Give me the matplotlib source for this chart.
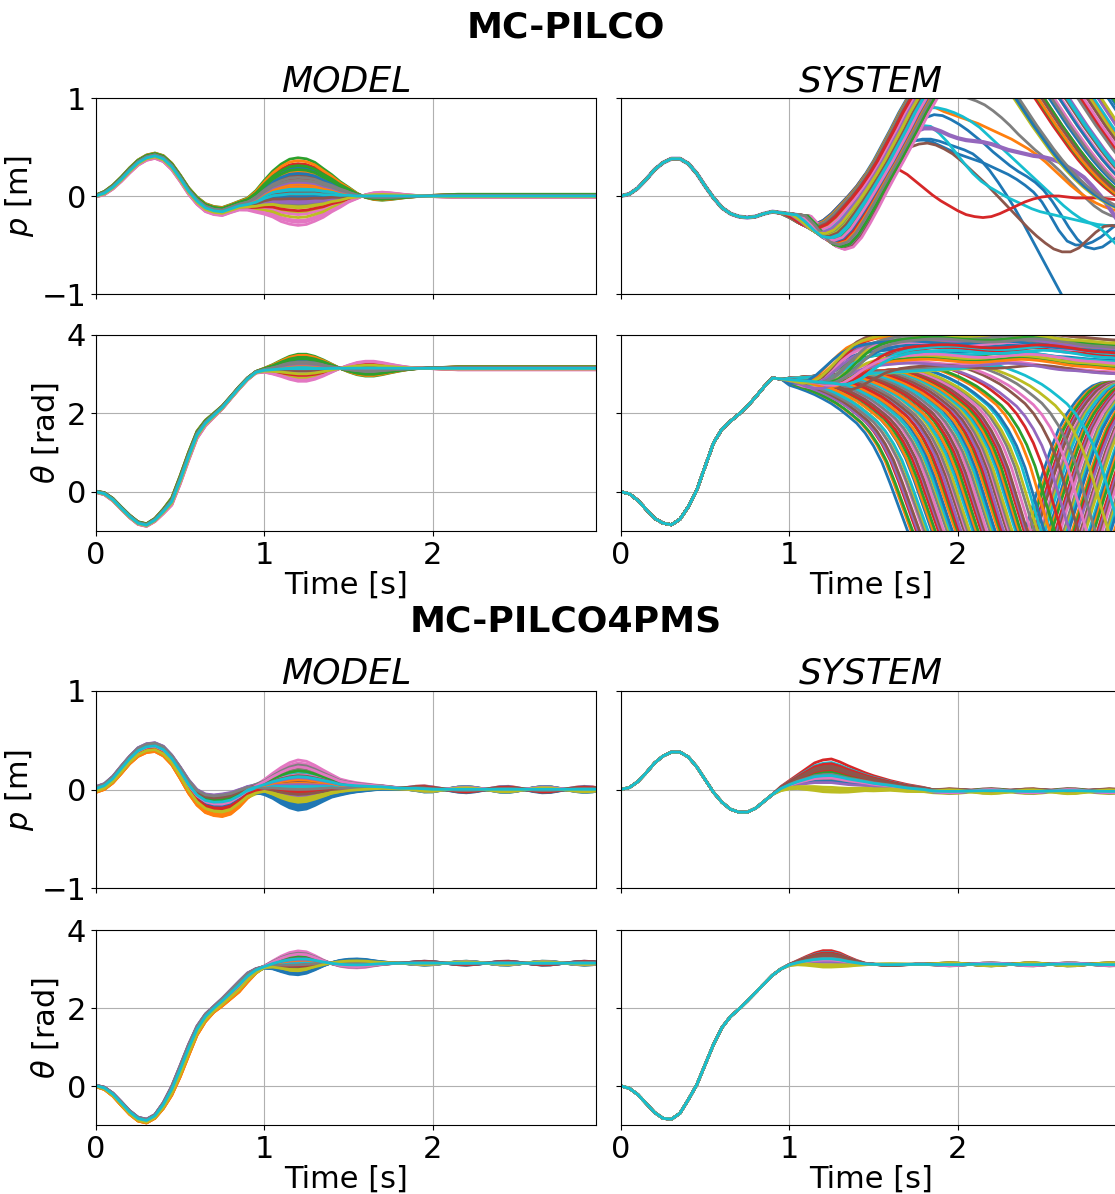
import numpy as np
import matplotlib
matplotlib.use('Agg')
import matplotlib.pyplot as plt

# time grid of the rollouts [s]
t = np.round(np.arange(61) * 0.05, 2)

# ---------------- MC-PILCO, MODEL ----------------
MP_MODEL_P = [0.00, 0.03, 0.09, 0.17, 0.26, 0.34, 0.39, 0.41, 0.38, 0.30,
              0.18, 0.05, -0.05, -0.12, -0.15, -0.16, -0.13, -0.10, -0.085, -0.06,
              -0.02, 0.01, 0.02, 0.03, 0.03, 0.03, 0.03, 0.02, 0.02, 0.01,
              0.01, 0.00, 0.00, 0.00, 0.00, 0.00, 0.00, 0.00, 0.00, 0.00] + [0.0] * 21
MP_MODEL_PS = [0.03, 0.05, 0.06, 0.07, 0.08, 0.08, 0.08, 0.08, 0.09, 0.10,
               0.10, 0.10, 0.11, 0.12, 0.12, 0.12, 0.12, 0.13, 0.18, 0.32,
               0.50, 0.68, 0.85, 0.96, 1.00, 0.97, 0.87, 0.72, 0.55, 0.38,
               0.22, 0.08, -0.04, -0.10, -0.12, -0.10, -0.07, -0.04, -0.02, 0.00,
               0.02, 0.03, 0.04] + [0.05] * 18
MP_MODEL_TH = [0.00, -0.05, -0.20, -0.42, -0.63, -0.80, -0.85, -0.72, -0.50, -0.25,
               0.30, 0.90, 1.45, 1.75, 1.95, 2.15, 2.40, 2.65, 2.88, 3.05,
               3.10, 3.12, 3.14] + [3.15] * 38
MP_MODEL_THS = [0.05, 0.08, 0.10, 0.10, 0.10, 0.10, 0.10, 0.12, 0.18, 0.28,
                0.32, 0.32, 0.28, 0.22, 0.16, 0.12, 0.10, 0.10, 0.08, 0.06,
                0.15, 0.35, 0.60, 0.85, 1.00, 1.00, 0.85, 0.60, 0.30, 0.00,
                -0.25, -0.45, -0.55, -0.55, -0.45, -0.32, -0.20, -0.10, -0.03, 0.00,
                0.03, 0.06, 0.09] + [0.12] * 18
C_MODEL = [0.12, 0.22, 0.36, 0.30, -0.08, 0.18, -0.33, 0.05, -0.15, 0.02,
           0.26, 0.33, 0.15, -0.02, 0.08, 0.10, -0.28, -0.12, -0.20, -0.05,
           0.20, 0.06, 0.24, 0.14, -0.10, 0.00, -0.22, 0.16, -0.25, 0.04,
           -0.04, 0.09, 0.28, -0.18, 0.11, -0.06, -0.30, 0.13, -0.14, -0.01]

# ---------------- MC-PILCO, SYSTEM ----------------
MP_SYS_P = [0.00, 0.02, 0.08, 0.17, 0.27, 0.34, 0.38, 0.38, 0.33, 0.23,
            0.10, -0.02, -0.12, -0.18, -0.21, -0.22, -0.21, -0.18, -0.16, -0.18,
            -0.22, -0.27, -0.30, -0.29, -0.25, -0.18, -0.09, 0.00, 0.10, 0.22,
            0.36, 0.52, 0.68, 0.85, 1.00, 1.12, 1.20, 1.26, 1.30, 1.30,
            1.30, 1.30, 1.27, 1.20, 1.10, 0.98, 0.85, 0.72, 0.60, 0.48,
            0.37, 0.27, 0.18, 0.10, 0.03, -0.03, -0.08, -0.12, -0.15, -0.17,
            -0.18]
MP_SYS_PB = [0.0] * 19 + [0.1, 0.3, 0.55, 0.8, 0.95, 1.0, 0.9, 0.7, 0.45, 0.2, 0.05] + [0.0] * 31
D_UP = [0.00, 0.005, 0.01, 0.015, 0.02, 0.025, 0.03, 0.035, 0.04, 0.045,
        0.05, 0.055, 0.06, 0.065, 0.07, 0.075, 0.08, 0.085, 0.09, 0.095,
        0.10, 0.105, 0.11, 0.115, 0.12, 0.125, 0.13, 0.135, 0.14, 0.145,
        0.15, 0.155, 0.16, 0.165, 0.17, 0.175, 0.18, 0.01, 0.03, 0.05,
        0.07, 0.09, 0.11, 0.13, 0.15, 0.02, 0.04, 0.06, 0.08, 0.10,
        0.12, 0.14, 0.16, 0.025, 0.055, 0.085, 0.115, 0.145, 0.065, 0.095]
E_UP = [0.30, 0.55, 0.10, 0.75, 0.40, 0.65, 0.20, 0.85, 0.50, 0.05,
        0.60, 0.35, 0.80, 0.15, 0.70, 0.45, 0.25, 0.78, 0.00, 0.58,
        0.38, 0.68, 0.12, 0.48, 0.83, 0.28, 0.62, 0.18, 0.74, 0.42,
        0.52, 0.08, 0.72, 0.32, 0.88, 0.22, 0.66, 0.46, 0.82, 0.36,
        0.03, 0.27, 0.57, 0.14, 0.44, 0.69, 0.33, 0.06, 0.53, 0.77,
        0.24, 0.64, 0.11, 0.47, 0.71, 0.17, 0.39, 0.60, 0.86, 0.31]
# single rollouts that leave the bundle, from t = 1.5 s
TAIL_RED = [0.25, 0.28, 0.29, 0.27, 0.22, 0.15, 0.08, 0.01, -0.05, -0.10,
            -0.15, -0.19, -0.21, -0.22, -0.21, -0.18, -0.14, -0.10, -0.06, -0.03,
            -0.01, 0.00, 0.00, -0.01, -0.02, -0.02, -0.02, -0.02, -0.03, -0.04, -0.05]
TAIL_BROWN = [0.34, 0.44, 0.50, 0.53, 0.54, 0.52, 0.48, 0.43, 0.36, 0.28,
              0.20, 0.12, 0.03, -0.06, -0.15, -0.24, -0.33, -0.41, -0.48, -0.54,
              -0.57, -0.57, -0.53, -0.45, -0.37, -0.31, -0.30, -0.33, -0.38, -0.42, -0.46]
TAIL_BLUE = [0.36, 0.45, 0.52, 0.56, 0.58, 0.58, 0.56, 0.53, 0.50, 0.47,
             0.43, 0.36, 0.26, 0.14, 0.01, -0.13, -0.28, -0.44, -0.60, -0.76,
             -0.92, -1.08, -1.24, -1.40, -1.55, -1.70, -1.85, -2.00, -2.15, -2.30, -2.45]
TAIL_BLUE2 = [0.36, 0.46, 0.53, 0.57, 0.57, 0.55, 0.51, 0.47, 0.43, 0.40,
              0.37, 0.34, 0.30, 0.26, 0.22, 0.17, 0.11, 0.04, -0.06, -0.20,
              -0.35, -0.46, -0.50, -0.50, -0.47, -0.42, -0.35, -0.28, -0.22, -0.18, -0.15]
TAIL_CYAN = [0.36, 0.50, 0.61, 0.68, 0.72, 0.71, 0.64, 0.55, 0.44, 0.33,
             0.23, 0.15, 0.09, 0.04, -0.01, -0.05, -0.09, -0.13, -0.16, -0.18,
             -0.20, -0.22, -0.24, -0.26, -0.28, -0.32, -0.40, -0.49, -0.58, -0.66, -0.74]
TAIL_PURPLE = [0.36, 0.50, 0.60, 0.66, 0.69, 0.69, 0.66, 0.62, 0.59, 0.57,
               0.56, 0.55, 0.53, 0.50, 0.47, 0.45, 0.43, 0.41, 0.40, 0.38,
               0.35, 0.30, 0.25, 0.19, 0.10, 0.00, -0.12, -0.25, -0.38, -0.52, -0.66]
TAIL_CYAN2 = [0.36, 0.52, 0.66, 0.78, 0.86, 0.90, 0.90, 0.88, 0.85, 0.81,
              0.76, 0.70, 0.62, 0.54, 0.46, 0.38, 0.30, 0.22, 0.14, 0.06,
              -0.02, -0.10, -0.17, -0.23, -0.27, -0.29, -0.30, -0.30, -0.29, -0.28, -0.27]
TAIL_GRAY = [0.36, 0.52, 0.68, 0.85, 1.00, 1.06, 1.08, 1.08, 1.06, 1.03,
             1.00, 0.97, 0.93, 0.87, 0.80, 0.72, 0.63, 0.55, 0.47, 0.40,
             0.33, 0.25, 0.16, 0.07, -0.02, -0.10, -0.16, -0.20, -0.22, -0.23, -0.24]
TAIL_ORANGE = [0.36, 0.52, 0.67, 0.80, 0.90, 0.92, 0.90, 0.86, 0.83, 0.80,
               0.77, 0.74, 0.70, 0.66, 0.62, 0.58, 0.53, 0.48, 0.42, 0.35,
               0.27, 0.19, 0.11, 0.04, -0.02, -0.07, -0.11, -0.14, -0.16, -0.17, -0.18]
TAIL_BLUE3 = [0.36, 0.50, 0.63, 0.73, 0.80, 0.83, 0.82, 0.78, 0.73, 0.67,
              0.60, 0.53, 0.45, 0.38, 0.31, 0.25, 0.20, 0.14, 0.06, -0.05,
              -0.18, -0.32, -0.44, -0.52, -0.54, -0.52, -0.46, -0.40, -0.35, -0.32, -0.30]
TAIL_DELAY = {'red': 0.0, 'gray': 0.06, 'cyan2': 0.08, 'blue2': 0.10, 'blue': 0.09,
              'brown': 0.12, 'cyan': 0.09, 'purple': 0.10, 'orange': 0.07, 'blue3': 0.11}

MP_SYS_TH_PRE = [0.00, -0.05, -0.22, -0.45, -0.68, -0.80, -0.84, -0.70, -0.38, 0.04,
                 0.65, 1.25, 1.60, 1.80, 1.98, 2.18, 2.42, 2.68, 2.90, 2.88]
MP_SYS_TH_FALL = [2.77, 2.70, 2.62, 2.53, 2.42, 2.30, 2.15, 1.98, 1.80, 1.55,
                  1.22, 0.80, 0.25, -0.35, -0.95, -1.50, -1.95, -2.30, -2.55, -2.70,
                  -2.80, -2.85, -2.80, -2.72, -2.60, -2.40, -2.10, -1.65, -1.00, -0.30,
                  0.40, 1.05, 1.60, 2.00, 2.30, 2.55, 2.70, 2.78, 2.80, 2.80, 2.80]
W_FALL = [1.0] * 13 + [0.7, 0.4, 0.1] + [0.0] * 25
MP_SYS_TH_UP = [2.77, 2.74, 2.76, 2.85, 3.00, 3.17, 3.32, 3.43, 3.50, 3.55,
                3.58, 3.60, 3.62, 3.63, 3.63, 3.62, 3.60, 3.58, 3.56, 3.55,
                3.55, 3.56, 3.58, 3.60, 3.62, 3.63, 3.62, 3.60, 3.57, 3.54,
                3.50, 3.47, 3.45, 3.44, 3.42, 3.40, 3.38, 3.37, 3.36, 3.36, 3.36]
W_UP = [0.0, 0.15, 0.35, 0.6, 0.8, 0.92] + [1.0] * 35
D_FALL = [0.00, 0.02, 0.03, 0.05, 0.06, 0.07, 0.09, 0.10, 0.11, 0.12,
          0.14, 0.15, 0.16, 0.18, 0.19, 0.20, 0.21, 0.23, 0.24, 0.25,
          0.26, 0.28, 0.29, 0.30, 0.31, 0.33, 0.34, 0.35, 0.36, 0.38,
          0.39, 0.40, 0.41, 0.43, 0.44, 0.45, 0.46, 0.48, 0.49, 0.50,
          0.51, 0.53, 0.54, 0.55, 0.56, 0.58, 0.59, 0.60, 0.61, 0.63,
          0.64, 0.65, 0.66, 0.68, 0.69, 0.70, 0.72, 0.74, 0.76, 0.78,
          0.80, 0.83, 0.86, 0.90, 0.95, 1.00, 1.05, 1.10, 1.18, 1.25]
O_FALL = [-0.05, -0.02, -0.04, 0.00, -0.03, 0.00, 0.03, -0.02, 0.05, 0.00,
          0.06, 0.02, 0.08, 0.04, 0.10, 0.05, 0.12, 0.07, 0.14, 0.09,
          0.15, 0.10, 0.17, 0.12, 0.18, 0.14, 0.20, 0.15, 0.22, 0.17,
          0.23, 0.18, 0.25, 0.20, 0.26, 0.21, 0.28, 0.22, 0.29, 0.24,
          0.30, 0.25, 0.31, 0.27, 0.32, 0.28, 0.33, 0.30, 0.34, 0.31,
          0.35, 0.32, 0.36, 0.33, 0.37, 0.34, 0.36, 0.38, 0.35, 0.40,
          0.37, 0.42, 0.40, 0.44, 0.38, 0.45, 0.42, 0.46, 0.40, 0.44]
D_UPTH = [0.00, 0.05, 0.02, 0.10, 0.07, 0.15, 0.03, 0.12, 0.20, 0.08,
          0.18, 0.04, 0.14, 0.25, 0.09, 0.22, 0.06, 0.16, 0.11, 0.28,
          0.01, 0.13, 0.19, 0.24, 0.05, 0.10, 0.17, 0.21, 0.08, 0.26]
O_UPTH = [0.00, 0.25, -0.10, 0.40, 0.10, 0.30, -0.30, 0.20, 0.45, -0.05,
          0.15, 0.35, -0.20, 0.05, 0.28, -0.40, 0.18, 0.38, -0.15, 0.08,
          0.22, -0.25, 0.32, 0.12, -0.35, 0.50, -0.12, 0.27, 0.42, -0.02]

# ---------------- MC-PILCO4PMS ----------------
WOBBLE = [0.0] * 36 + [0.0, 0.3, 0.7, 1.0, 0.8, 0.3, -0.3, -0.8, -1.0, -0.7,
                       -0.2, 0.4, 0.9, 1.0, 0.6, 0.0, -0.6, -1.0, -0.9, -0.4,
                       0.2, 0.7, 1.0, 0.8, 0.3]
PMS_MODEL_P = [0.00, 0.03, 0.10, 0.20, 0.30, 0.38, 0.42, 0.43, 0.39, 0.30,
               0.17, 0.03, -0.08, -0.14, -0.16, -0.16, -0.14, -0.09, -0.03, 0.00,
               0.02, 0.03, 0.03, 0.03, 0.03, 0.03, 0.03, 0.03, 0.03, 0.02,
               0.02, 0.02, 0.02, 0.02, 0.02, 0.015, 0.01, 0.01, 0.01, 0.005] + [0.0] * 21
PMS_MODEL_PS1 = [0.03, 0.03, 0.035, 0.04, 0.04, 0.045, 0.045, 0.045, 0.05, 0.05,
                 0.06, 0.07, 0.08, 0.095, 0.105, 0.115, 0.11, 0.09, 0.06, 0.03] + [0.0] * 41
PMS_MODEL_PS2 = [0.0] * 18 + [0.05, 0.15, 0.30, 0.50, 0.72, 0.90, 1.00, 0.95, 0.80, 0.62,
                              0.45, 0.32, 0.24, 0.18, 0.14, 0.10, 0.07, 0.05, 0.03] + [0.02] * 24
PMS_MODEL_TH = [0.00, -0.06, -0.22, -0.45, -0.68, -0.85, -0.90, -0.78, -0.50, -0.12,
                0.38, 0.92, 1.42, 1.75, 1.97, 2.15, 2.35, 2.55, 2.78, 2.95,
                3.05, 3.10, 3.12, 3.13, 3.14] + [3.15] * 36
PMS_MODEL_THS1 = [0.02, 0.03, 0.04, 0.05, 0.05, 0.05, 0.05, 0.05, 0.08, 0.12,
                  0.15, 0.15, 0.12, 0.10, 0.08, 0.10, 0.12, 0.14, 0.12, 0.06] + [0.0] * 41
PMS_MODEL_THS2 = [0.0] * 19 + [0.05, 0.10, 0.40, 0.78, 1.08, 1.20, 1.08, 0.72, 0.30, -0.06,
                               -0.30, -0.42, -0.45, -0.40, -0.26, -0.14, -0.06] + [0.0] * 25
C1_MODEL4 = [0.3, -1.0, 0.5, -0.2, 0.9, 0.7, 0.1, 0.8, -0.5, 0.2,
             -0.3, -0.95, 0.4, 0.0, 1.0, 0.6, -0.1, 0.75, -0.6, 0.35,
             0.15, -0.9, 0.55, -0.4, 0.85, 0.45, 0.05, 0.65, -0.7, 0.25,
             -0.15, -0.85, 0.5, -0.25, 0.95, 0.7, 0.2, 0.9, -0.55, 0.3]
C2_MODEL4 = [-0.24, 0.05, 0.10, 0.12, -0.05, 0.00, 0.27, 0.18, -0.15, 0.08,
             -0.20, -0.02, 0.14, 0.20, -0.10, 0.06, 0.24, 0.10, -0.12, 0.15,
             -0.18, 0.03, 0.20, -0.06, 0.02, -0.08, 0.12, 0.22, -0.16, 0.00,
             -0.22, 0.07, 0.16, -0.04, 0.09, 0.11, 0.20, -0.03, -0.13, 0.10]
C3_MODEL4 = [0.5, -0.8, 0.2, 1.0, -0.3, -1.0, 0.7, 0.1, -0.6, 0.9,
             -0.2, 0.4, -0.9, 0.6, 0.0, -0.5, 0.8, -0.7, 0.3, -0.1,
             1.0, -0.4, 0.6, -0.8, 0.2, 0.9, -0.6, -0.2, 0.5, -1.0,
             0.7, -0.3, 0.1, 0.8, -0.9, 0.4, -0.5, 0.3, -0.7, 0.0]

PMS_SYS_P = [0.00, 0.02, 0.08, 0.17, 0.27, 0.34, 0.38, 0.38, 0.33, 0.23,
             0.10, -0.03, -0.13, -0.20, -0.23, -0.23, -0.19, -0.12, -0.05, 0.00,
             0.03, 0.05, 0.06, 0.07, 0.07, 0.07, 0.06, 0.05, 0.045, 0.04,
             0.03, 0.025, 0.02, 0.01, 0.00, -0.005, -0.01, -0.02, -0.02, -0.02] + [-0.02] * 21
PMS_SYS_PS = [0.0] * 19 + [0.03, 0.06, 0.10, 0.15, 0.20, 0.23, 0.24, 0.22, 0.19, 0.16,
                           0.13, 0.11, 0.09, 0.07, 0.06, 0.05, 0.04, 0.03, 0.02] + [0.015] * 23
PMS_SYS_TH = [0.00, -0.06, -0.22, -0.45, -0.68, -0.83, -0.85, -0.70, -0.35, 0.03,
              0.55, 1.07, 1.50, 1.78, 1.97, 2.18, 2.40, 2.62, 2.84, 3.00,
              3.10, 3.14, 3.16, 3.17, 3.17, 3.17, 3.16, 3.14, 3.13] + [3.12] * 32
PMS_SYS_THS = [0.0] * 20 + [0.02, 0.08, 0.16, 0.24, 0.30, 0.30, 0.25, 0.17, 0.09, 0.03,
                            0.00, -0.02, -0.03, -0.02, -0.01] + [0.0] * 26
C_SYS4 = [0.20, 0.45, 0.30, 1.00, 0.55, 0.65, 0.50, 0.75, -0.40, 0.85,
          0.10, 0.35, 0.60, 0.80, 0.25, 0.70, 0.40, 0.15, -0.30, 0.50,
          0.05, 0.30, 0.45, 0.55, 0.00, 0.60, 0.20, 0.35, -0.20, 0.30]
C3_SYS4 = [-0.6, 0.4, 0.9, -0.2, 0.7, -1.0, 0.1, 0.5, -0.8, 0.3,
           1.0, -0.4, -0.7, 0.6, 0.0, 0.8, -0.3, -0.9, 0.2, 0.5,
           -0.5, 0.9, 0.3, -0.1, -0.6, 0.7, -0.8, 0.4, 1.0, -0.2]

LW = 2
FS = 22
W, H = 1115, 1194


def bundle(ax, base, shapes, coefs):
    base = np.array(base)
    for i in range(len(coefs[0])):
        y = base.copy()
        for s, c in zip(shapes, coefs):
            y = y + c[i] * np.array(s)
        ax.plot(t, y, lw=LW)


def sys_p(ax):
    base = np.array(MP_SYS_P)
    bump = np.array(MP_SYS_PB)
    tails = [('gray', TAIL_GRAY, 'C7'), ('orange', TAIL_ORANGE, 'C1'),
             ('cyan2', TAIL_CYAN2, 'C9'), ('blue3', TAIL_BLUE3, 'C0'),
             ('blue2', TAIL_BLUE2, 'C0'), ('blue', TAIL_BLUE, 'C0'),
             ('brown', TAIL_BROWN, 'C5'), ('cyan', TAIL_CYAN, 'C9'),
             ('purple', TAIL_PURPLE, 'C4'), ('red', TAIL_RED, 'C3')]
    for key, tail, col in tails:
        d = TAIL_DELAY[key]
        x = t.copy()
        x[19:] += d
        y = np.concatenate([base[:30], tail]) - 1.5 * d * bump
        ax.plot(x, y, lw=LW + (1 if key == 'purple' else 0), color=col)
    for d, e in zip(D_UP, E_UP):
        x = t.copy()
        x[19:] += d
        x[41:] += e
        ax.plot(x, base - 1.5 * d * bump, lw=LW)


def sys_th(ax):
    pre = np.array(MP_SYS_TH_PRE)
    fall = np.array(MP_SYS_TH_FALL)
    up = np.array(MP_SYS_TH_UP)
    for d, o in zip(D_FALL, O_FALL):
        x = np.concatenate([t[:20], t[20:] + d])
        y = np.concatenate([pre, fall + o * np.array(W_FALL)])
        ax.plot(x, y, lw=LW)
    for d, o in zip(D_UPTH, O_UPTH):
        x = np.concatenate([t[:20], t[20:] + d])
        y = np.concatenate([pre, up + o * np.array(W_UP)])
        ax.plot(x, y, lw=LW)


def make_axes(fig, x0, top, bottom, sharey=None):
    return fig.add_axes([x0 / W, 1 - bottom / H, 500 / W, (bottom - top) / H],
                        sharey=sharey)


def style(ax, kind, left, bottom):
    ax.set_xlim(0, 2.97)
    ax.set_xticks([0, 1, 2])
    if kind == 'p':
        ax.set_ylim(-1, 1)
        ax.set_yticks([-1, 0, 1])
    else:
        ax.set_ylim(-1, 4)
        ax.set_yticks([0, 2, 4])
    ax.grid(True)
    ax.tick_params(labelsize=FS)
    if left:
        ax.set_ylabel('$p$ [m]' if kind == 'p' else r'$\theta$ [rad]', fontsize=FS)
    else:
        ax.tick_params(labelleft=False)
    if bottom:
        ax.set_xlabel('Time [s]', fontsize=FS, labelpad=1)
    else:
        ax.tick_params(labelbottom=False)


fig = plt.figure(figsize=(W / 100, H / 100), dpi=100)

groups = [('MC-PILCO', 27, (98, 294, 335, 531)),
          ('MC-PILCO4PMS', 622, (691, 888, 930, 1125))]
axes = []
for name, ytitle, (p_top, p_bot, th_top, th_bot) in groups:
    fig.text(566 / W, 1 - ytitle / H, name, ha='center', va='center',
             fontsize=26, fontweight='bold')
    ap_m = make_axes(fig, 96, p_top, p_bot)
    ap_s = make_axes(fig, 621, p_top, p_bot, sharey=ap_m)
    at_m = make_axes(fig, 96, th_top, th_bot)
    at_s = make_axes(fig, 621, th_top, th_bot, sharey=at_m)
    ap_m.set_title('MODEL', fontsize=26, style='italic', pad=5)
    ap_s.set_title('SYSTEM', fontsize=26, style='italic', pad=5)
    axes.append((ap_m, ap_s, at_m, at_s))

# MC-PILCO
ap_m, ap_s, at_m, at_s = axes[0]
bundle(ap_m, MP_MODEL_P, [MP_MODEL_PS], [C_MODEL])
bundle(at_m, MP_MODEL_TH, [MP_MODEL_THS], [C_MODEL])
sys_p(ap_s)
sys_th(at_s)

# MC-PILCO4PMS
bp_m, bp_s, bt_m, bt_s = axes[1]
bundle(bp_m, PMS_MODEL_P, [PMS_MODEL_PS1, PMS_MODEL_PS2, WOBBLE],
       [C1_MODEL4, C2_MODEL4, [0.03 * c for c in C3_MODEL4]])
bundle(bt_m, PMS_MODEL_TH, [PMS_MODEL_THS1, PMS_MODEL_THS2, WOBBLE],
       [C1_MODEL4, C2_MODEL4, [0.05 * c for c in C3_MODEL4]])
bundle(bp_s, PMS_SYS_P, [PMS_SYS_PS, WOBBLE], [C_SYS4, [0.02 * c for c in C3_SYS4]])
bundle(bt_s, PMS_SYS_TH, [PMS_SYS_THS, WOBBLE], [C_SYS4, [0.04 * c for c in C3_SYS4]])

for ap_m, ap_s, at_m, at_s in axes:
    style(ap_m, 'p', True, False)
    style(ap_s, 'p', False, False)
    style(at_m, 'th', True, True)
    style(at_s, 'th', False, True)

fig.savefig('out.png', dpi=100)
